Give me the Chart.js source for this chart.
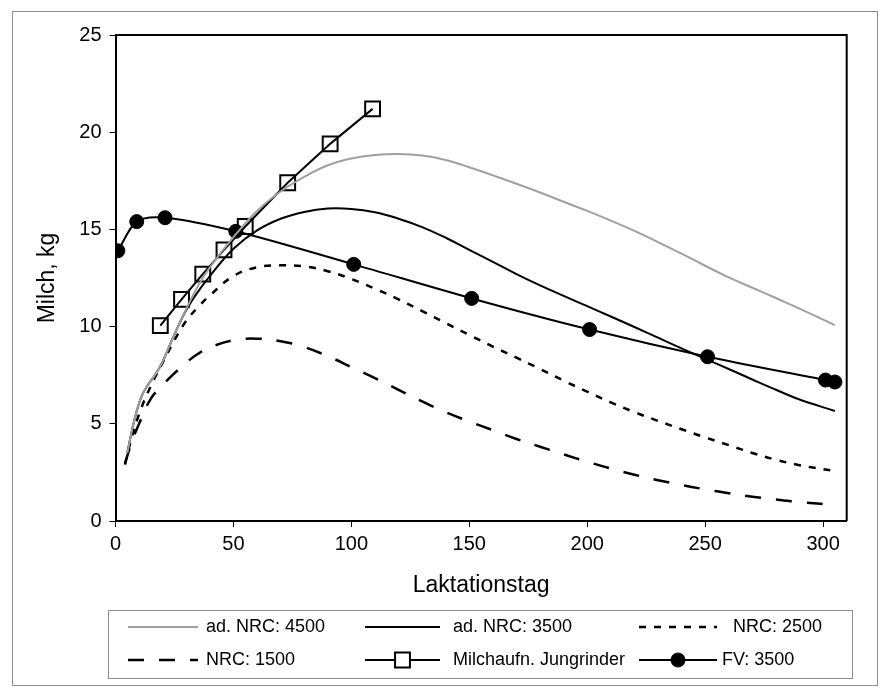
<!DOCTYPE html>
<html>
<head>
<meta charset="utf-8">
<script src="https://cdn.jsdelivr.net/npm/chart.js@4"></script>
<style>
  html, body { margin: 0; padding: 0; background: #fff; }
  canvas { display: block; }
</style>
</head>
<body>
<canvas id="milkChart" width="890" height="697"></canvas>
<script>
// x axis ticks (Laktationstag) and y axis ticks (Milch, kg)
const dayTicks = [0, 50, 100, 150, 200, 250, 300]
const milkTicks = [0, 5, 10, 15, 20, 25]

// ad. NRC: 4500
const nrc4500Days = [5, 8, 11, 14, 17, 20, 25, 30, 35, 40, 50, 60, 70, 80, 90, 100, 110, 120, 130, 140, 150, 160, 170, 180, 190, 200, 210, 220, 230, 240, 250, 260, 270, 280, 290, 305]
const nrc4500Milk = [3.5, 5.2, 6.4, 7.05, 7.55, 8.2, 9.6, 10.9, 12.1, 13.05, 14.6, 15.95, 16.95, 17.7, 18.3, 18.65, 18.83, 18.88, 18.8, 18.57, 18.2, 17.78, 17.35, 16.9, 16.42, 15.95, 15.45, 14.92, 14.35, 13.75, 13.13, 12.53, 12.0, 11.47, 10.92, 10.08]

// ad. NRC: 3500
const nrc3500Days = [5, 8, 11, 14, 17, 20, 25, 30, 35, 40, 50, 60, 70, 80, 90, 100, 110, 120, 130, 140, 150, 160, 170, 180, 190, 200, 210, 220, 230, 240, 250, 260, 270, 280, 290, 305]
const nrc3500Milk = [3.5, 5.2, 6.4, 7.05, 7.55, 8.2, 9.6, 10.85, 11.8, 12.6, 14.0, 14.95, 15.55, 15.9, 16.07, 16.05, 15.88, 15.55, 15.12, 14.57, 13.95, 13.33, 12.7, 12.12, 11.58, 11.05, 10.52, 9.98, 9.43, 8.88, 8.34, 7.82, 7.28, 6.75, 6.25, 5.66]

// NRC: 2500
const nrc2500Days = [4, 6, 10, 15, 20, 25, 30, 35, 40, 50, 60, 70, 80, 90, 100, 110, 120, 130, 140, 150, 160, 170, 180, 190, 200, 210, 220, 230, 240, 250, 260, 270, 280, 290, 305]
const nrc2500Milk = [2.9, 3.9, 5.5, 6.95, 8.15, 9.3, 10.3, 11.0, 11.6, 12.6, 13.05, 13.15, 13.1, 12.85, 12.45, 11.95, 11.4, 10.8, 10.18, 9.57, 8.97, 8.4, 7.82, 7.22, 6.65, 6.1, 5.6, 5.15, 4.72, 4.3, 3.9, 3.5, 3.15, 2.87, 2.57]

// NRC: 1500
const nrc1500Days = [4, 7, 10, 15, 20, 25, 30, 35, 40, 50, 60, 70, 80, 90, 100, 110, 120, 130, 140, 150, 160, 170, 180, 190, 200, 210, 220, 230, 240, 250, 260, 270, 280, 290, 305]
const nrc1500Milk = [2.95, 4.1, 5.0, 6.3, 7.0, 7.6, 8.15, 8.6, 8.93, 9.3, 9.38, 9.25, 8.95, 8.48, 7.92, 7.35, 6.75, 6.15, 5.6, 5.12, 4.67, 4.22, 3.82, 3.43, 3.05, 2.7, 2.38, 2.1, 1.85, 1.63, 1.43, 1.25, 1.1, 0.97, 0.83]

// Milchaufn. Jungrinder
const jungDays = [19, 28, 37, 46, 55, 73, 91, 109]
const jungMilk = [10.05, 11.4, 12.7, 13.95, 15.15, 17.4, 19.4, 21.2]

// FV: 3500
const fvDays = [1, 9, 21, 51, 101, 151, 201, 251, 301, 305]
const fvMilk = [13.9, 15.4, 15.6, 14.9, 13.2, 11.45, 9.85, 8.45, 7.25, 7.15]

const FONT = "'Liberation Sans', Arial, sans-serif"

// zip days and milk into points
function toPoints(days, milk) {
    return days.map((d, i) => ({ x: d, y: milk[i] }))
}

// plugin: plot frame, outer frame and the legend box
const framePlugin = {
    id: 'frames',
    afterDraw(chart) {
        const ctx = chart.ctx
        const area = chart.chartArea
        ctx.save()

        // outer frame round the whole figure
        ctx.strokeStyle = '#8c8c8c'
        ctx.lineWidth = 1
        ctx.strokeRect(12.5, 11.5, 865, 674)

        // top and right edges of the plot box
        ctx.strokeStyle = '#000'
        ctx.lineWidth = 2
        ctx.beginPath()
        ctx.moveTo(area.left, area.top)
        ctx.lineTo(area.right, area.top)
        ctx.lineTo(area.right, area.bottom)
        ctx.stroke()

        // legend box
        ctx.strokeStyle = '#8c8c8c'
        ctx.lineWidth = 1
        ctx.strokeRect(108.5, 610.5, 744, 68)

        // legend entries, three per row
        const colLine = [128, 365, 639]
        const colLen = [70, 75, 78]
        const colText = [206, 453, 722]
        const rowY = [627, 660]
        ctx.font = '18px ' + FONT
        ctx.textBaseline = 'middle'
        ctx.textAlign = 'left'
        chart.data.datasets.forEach((ds, i) => {
            const col = i % 3
            const y = rowY[Math.floor(i / 3)]
            const x0 = colLine[col]
            const x1 = x0 + colLen[col]
            const xm = (x0 + x1) / 2
            ctx.strokeStyle = ds.borderColor
            ctx.lineWidth = ds.borderWidth
            ctx.setLineDash(ds.borderDash || [])
            ctx.beginPath()
            ctx.moveTo(x0, y)
            ctx.lineTo(x1, y)
            ctx.stroke()
            ctx.setLineDash([])
            if (ds.pointRadius > 0) {
                ctx.strokeStyle = ds.pointBorderColor
                ctx.lineWidth = ds.pointBorderWidth
                ctx.beginPath()
                if (ds.pointStyle === 'rect') {
                    const s = Math.SQRT1_2 * ds.pointRadius
                    ctx.fillStyle = '#fff'
                    ctx.rect(xm - s, y - s, 2 * s, 2 * s)
                } else {
                    ctx.fillStyle = ds.pointBackgroundColor
                    ctx.arc(xm, y, ds.pointRadius, 0, Math.PI * 2)
                }
                ctx.fill()
                ctx.stroke()
            }
            ctx.fillStyle = '#000'
            ctx.fillText(ds.label, col === 2 && i < 3 ? 733 : colText[col], y)
        })
        ctx.restore()
    }
}

const lineBase = {
    borderWidth: 2,
    pointRadius: 0,
    pointHoverRadius: 0,
    tension: 0.4,
    fill: false
}

const ctx = document.getElementById('milkChart').getContext('2d')
new Chart(ctx, {
    type: 'line',
    data: {
        datasets: [
            Object.assign({}, lineBase, {
                label: 'ad. NRC: 4500',
                data: toPoints(nrc4500Days, nrc4500Milk),
                borderColor: '#a0a0a0'
            }),
            Object.assign({}, lineBase, {
                label: 'ad. NRC: 3500',
                data: toPoints(nrc3500Days, nrc3500Milk),
                borderColor: '#000'
            }),
            Object.assign({}, lineBase, {
                label: 'NRC: 2500',
                data: toPoints(nrc2500Days, nrc2500Milk),
                borderColor: '#000',
                borderWidth: 2.5,
                borderDash: [7, 8]
            }),
            Object.assign({}, lineBase, {
                label: 'NRC: 1500',
                data: toPoints(nrc1500Days, nrc1500Milk),
                borderColor: '#000',
                borderWidth: 2.5,
                borderDash: [16, 15]
            }),
            Object.assign({}, lineBase, {
                label: 'Milchaufn. Jungrinder',
                data: toPoints(jungDays, jungMilk),
                borderColor: '#000',
                tension: 0,
                pointStyle: 'rect',
                pointRadius: 10.5,
                pointBorderWidth: 2,
                pointBorderColor: '#000',
                pointBackgroundColor: 'rgba(0,0,0,0)'
            }),
            Object.assign({}, lineBase, {
                label: 'FV: 3500',
                data: toPoints(fvDays, fvMilk),
                borderColor: '#000',
                tension: 0.3,
                pointStyle: 'circle',
                pointRadius: 7,
                pointBorderWidth: 1,
                pointBorderColor: '#000',
                pointBackgroundColor: '#000'
            })
        ]
    },
    options: {
        responsive: false,
        animation: false,
        devicePixelRatio: 1,
        layout: {
            padding: { left: 0, top: 35, right: 43.3, bottom: 97 }
        },
        plugins: {
            legend: { display: false },
            tooltip: { enabled: false }
        },
        scales: {
            x: {
                type: 'linear',
                min: 0,
                max: 310,
                afterFit: scale => { scale.height = 79 },
                afterBuildTicks: scale => { scale.ticks = dayTicks.map(v => ({ value: v })) },
                ticks: {
                    color: '#000',
                    font: { family: FONT, size: 20 },
                    padding: 5,
                    maxRotation: 0
                },
                grid: {
                    drawOnChartArea: false,
                    drawTicks: true,
                    tickLength: 6,
                    color: '#000',
                    lineWidth: 1
                },
                border: { display: true, color: '#000', width: 2 },
                title: {
                    display: true,
                    text: 'Laktationstag',
                    color: '#000',
                    font: { family: FONT, size: 23 },
                    padding: { top: 0, bottom: 1 }
                }
            },
            y: {
                min: 0,
                max: 25,
                afterFit: scale => { scale.width = 115.5 },
                afterBuildTicks: scale => { scale.ticks = milkTicks.map(v => ({ value: v })) },
                ticks: {
                    color: '#000',
                    font: { family: FONT, size: 20 },
                    padding: 8
                },
                grid: {
                    drawOnChartArea: false,
                    drawTicks: true,
                    tickLength: 6,
                    color: '#000',
                    lineWidth: 1
                },
                border: { display: true, color: '#000', width: 2 },
                title: {
                    display: true,
                    text: 'Milch, kg',
                    color: '#000',
                    font: { family: FONT, size: 23 },
                    padding: { top: 34, bottom: 0 }
                }
            }
        }
    },
    plugins: [framePlugin]
})
</script>
</body>
</html>
